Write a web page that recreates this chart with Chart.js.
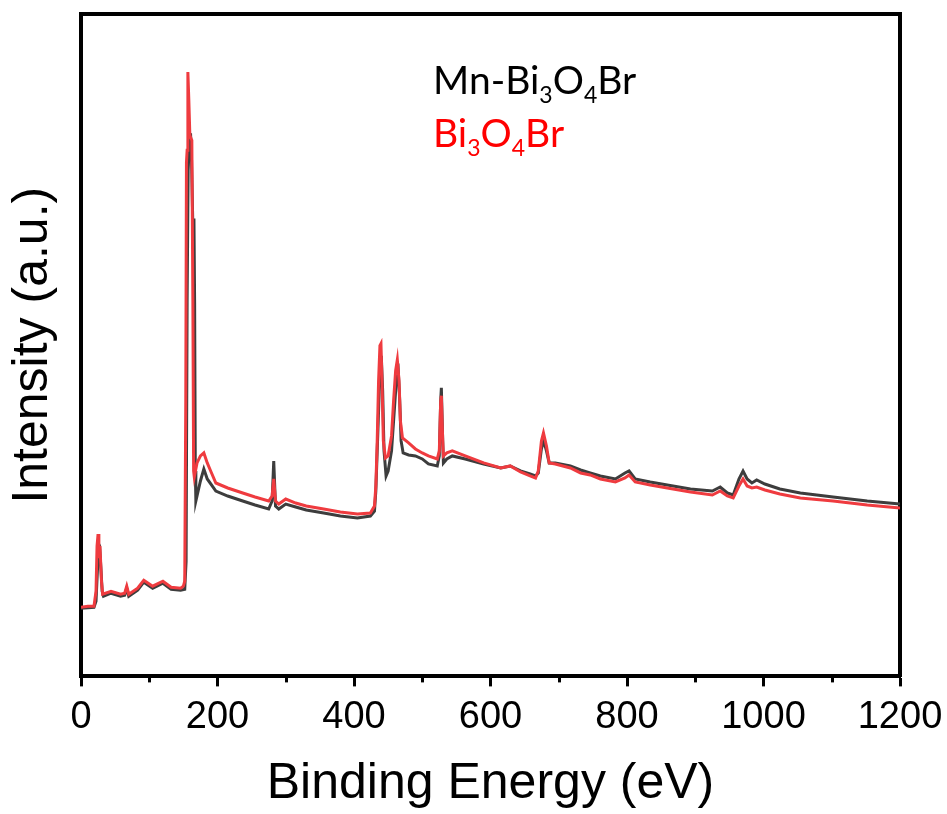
<!DOCTYPE html>
<html><head><meta charset="utf-8">
<script src="https://cdn.jsdelivr.net/npm/chart.js@4/dist/chart.umd.min.js"></script>
<style>
html,body{margin:0;padding:0;background:#fff;}
#wrap{position:relative;width:947px;height:814px;}
canvas{display:block;}
.leg{position:absolute;left:433px;font-family:Lato,sans-serif;font-size:39px;line-height:39px;white-space:nowrap;}
.leg sub{font-size:23px;vertical-align:baseline;position:relative;top:9px;line-height:0;}
</style></head><body>
<div id="wrap"><canvas id="c" width="947" height="814"></canvas>
<div class="leg" style="top:60px;color:#000">Mn-Bi<sub>3</sub>O<sub>4</sub>Br</div>
<div class="leg" style="top:113px;color:#ff0000">Bi<sub>3</sub>O<sub>4</sub>Br</div>
</div>
<script>
// Series labels
const seriesNames = ['Bi3O4Br', 'Mn-Bi3O4Br'];
// X-axis ticks
const majorTicks = [0, 200, 400, 600, 800, 1000, 1200];
const minorTicks = [100, 300, 500, 700, 900, 1100];

// Bi3O4Br (red) binding energy (eV) and intensity (a.u.)
const redE = [0,10,19,22,23.5,25,26.2,27.8,30,31.7,44,58,64,67,70,83,92,105,120,132,146,150,152,153.5,154.5,155.5,156.6,158,159.5,161,162.4,163.9,165,166,170,175,180,185,190,197.6,215,237,255,275,280,282.4,285,289.8,300,314.6,330,355.6,380,405,424,430,432,434,436,438,439.5,441,443,446,450,455,458,461,463.5,466,468,471,480,490,500,509,522,525,527,528,530,531,536,544,563,590,615,629,644,658,666,670,674.6,677.6,682,686,695,717,732,746,761,783,797,803,812,834,859,893,925,936.6,947,955.6,964,970,976,983,990,1002,1024,1054,1102,1152,1200];
const redI = [71,72,72,87,132,144,120,132,97,84,87,84,85,92,84,90,98,92,97,91,90,92,97,277,515,527,605,577,542,539,537,377,207,201,215,222,225,215,207,195,190,185,181,177,182,199,177,174,179,175,172,169,166,164,165,172,192,237,297,332,334,297,237,220,222,242,277,307,318,297,257,240,235,229,225,222,219,227,277,282,237,222,225,227,222,215,210,212,206,202,200,207,237,245,232,215,214,210,205,203,199,196,200,203,196,193,190,186,183,187,182,180,192,199,192,190,191,188,184,180,177,173,170];

// Mn-Bi3O4Br (dark grey) binding energy (eV) and intensity (a.u.)
const blackE = [0,19,22,24,26,27.5,29,31,33,44,58,64,67,70,83,92,105,120,132,146,152,154,155.5,157,159,160.5,162,164,165.5,166.5,167.5,168.3,170,175,180,185,197.6,215,237,255,275,280,282.4,285,289.8,300,314.6,330,355.6,380,405,424,430,432,434,437,440,442,444,447,450,455,459,462,465,467,469,472,480,490,500,509,522,525,527,528,530,531,536,544,563,590,615,629,644,658,666,670,674.6,678,682,686,695,717,732,746,761,783,797,803,812,834,859,893,925,936.6,947,955.6,964,970,976,983,990,1002,1024,1054,1102,1152,1200];
const blackI = [70,71,77,107,127,129,112,87,82,85,82,83,90,82,88,96,90,95,89,88,89,117,377,507,537,544,517,447,459,374,207,177,182,197,209,199,187,182,177,173,169,177,217,172,169,174,171,168,165,162,160,162,167,187,227,287,322,287,227,202,207,227,267,297,305,277,237,225,223,222,219,214,212,222,277,290,237,215,219,222,219,214,210,212,207,204,202,205,229,237,227,215,215,212,208,205,202,199,205,207,199,196,193,189,187,191,185,183,199,207,199,195,198,194,189,185,181,177,174];

const toXY = (xs, ys) => xs.map((x, i) => ({x, y: ys[i]}));

const minorTickPlugin = {
  id: 'minorTicks',
  afterDraw(chart) {
    const {ctx, chartArea, scales} = chart;
    ctx.save();
    ctx.strokeStyle = '#000';
    ctx.lineWidth = 3;
    minorTicks.forEach(v => {
      const px = Math.round(scales.x.getPixelForValue(v)) + 0.5;
      ctx.beginPath();
      ctx.moveTo(px, chartArea.bottom);
      ctx.lineTo(px, chartArea.bottom + 6);
      ctx.stroke();
    });
    ctx.restore();
  }
};

const axisFont = '"Liberation Sans", Arial, sans-serif';

new Chart(document.getElementById('c'), {
  type: 'line',
  data: {
    datasets: [
      {label: seriesNames[0], data: toXY(redE, redI), borderColor: '#ef3b3f', borderWidth: 3, pointRadius: 0, tension: 0, order: 0},
      {label: seriesNames[1], data: toXY(blackE, blackI), borderColor: '#3d3d3d', borderWidth: 3, pointRadius: 0, tension: 0, order: 1}
    ]
  },
  options: {
    responsive: false,
    animation: false,
    events: [],
    layout: {padding: {top: 14, right: 47, left: 0, bottom: 0}},
    plugins: {legend: {display: false}, tooltip: {enabled: false}},
    scales: {
      x: {
        type: 'linear', position: 'bottom', min: 0, max: 1200,
        afterBuildTicks: s => { s.ticks = majorTicks.map(v => ({value: v})); },
        afterFit: s => { s.paddingLeft = 0; s.paddingRight = 0; },
        ticks: {color: '#000', padding: 8, maxRotation: 0, autoSkip: false,
          callback: v => String(v),
          font: {family: axisFont, size: 38}},
        grid: {display: true, drawOnChartArea: false, drawTicks: true, tickLength: 10, tickWidth: 3, tickColor: '#000'},
        border: {display: true, width: 4, color: '#000'},
        title: {display: true, text: 'Binding Energy (eV)', color: '#000', padding: {top: 6, bottom: 0},
          font: {family: axisFont, size: 50}}
      },
      x2: {
        type: 'linear', position: 'top', min: 0, max: 1200,
        ticks: {display: false}, grid: {display: false, drawTicks: false},
        border: {display: true, width: 4, color: '#000'}
      },
      y: {
        type: 'linear', position: 'left', min: 2, max: 663,
        ticks: {display: false}, grid: {display: false, drawTicks: false},
        border: {display: true, width: 4, color: '#000'},
        title: {display: true, text: 'Intensity (a.u.)', color: '#000', padding: {top: 3, bottom: 18},
          font: {family: axisFont, size: 50}}
      },
      y2: {
        type: 'linear', position: 'right', min: 2, max: 663,
        ticks: {display: false}, grid: {display: false, drawTicks: false},
        border: {display: true, width: 4, color: '#000'}
      }
    }
  },
  plugins: [minorTickPlugin]
});
</script>
</body></html>
